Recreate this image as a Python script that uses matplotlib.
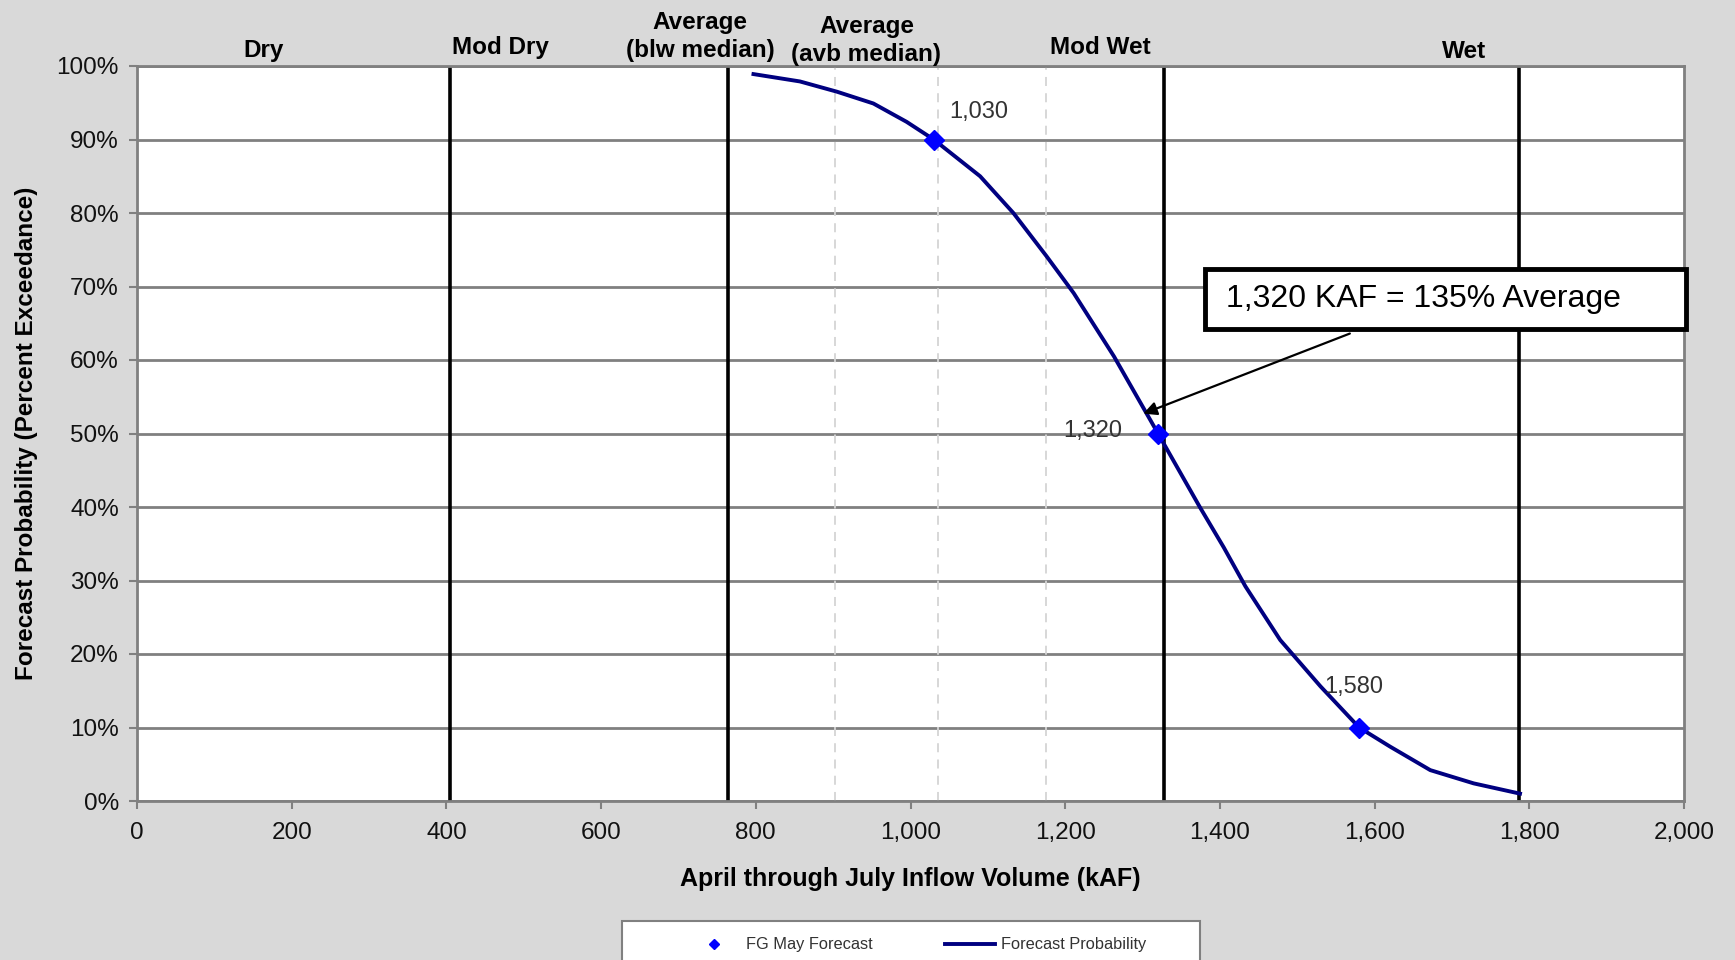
import numpy as np
import matplotlib.pyplot as plt
from matplotlib.ticker import FuncFormatter
from matplotlib.patches import Rectangle

plt.rcParams['font.family'] = ['Liberation Sans', 'DejaVu Sans']

# forecast exceedance curve
volume = [797, 857, 905, 952, 995, 1030, 1090, 1133, 1176, 1211, 1263, 1320,
          1374, 1405, 1433, 1478, 1530, 1580, 1620, 1672, 1728, 1788]
prob = [98.9, 97.9, 96.5, 94.9, 92.4, 90, 85, 80, 74.1, 69.1, 60.5, 50,
        40, 34.5, 29.2, 21.9, 15.6, 10, 7.4, 4.2, 2.4, 1.0]

# FG May forecast points
fc_volume = [1030, 1320, 1580]
fc_prob = [90, 50, 10]
fc_labels = ['1,030', '1,320', '1,580']
fc_label_pos = [(1088, 93.8), (1235, 50.3), (1573, 15.5)]

# year-type boundaries
bounds_solid = [405, 764, 1328, 1787]
bounds_dashed = [903, 1036, 1175]
cat_names = ['Dry', 'Mod Dry', 'Average\n(blw median)', 'Average\n(avb median)', 'Mod Wet', 'Wet']
cat_x = [163, 470, 728, 943, 1245, 1716]
cat_y = [102.1, 102.5, 104.0, 103.5, 102.5, 102.0]

bg = '#d9d9d9'
fig = plt.figure(figsize=(17.35, 9.6), dpi=100, facecolor=bg)
ax = fig.add_axes([137 / 1735, 1 - 801 / 960, 1547 / 1735, 735 / 960])
ax.set_facecolor('white')

ax.set_xlim(0, 2000)
ax.set_ylim(0, 100)
ax.set_xticks(np.arange(0, 2001, 200))
ax.set_yticks(np.arange(0, 101, 10))
ax.xaxis.set_major_formatter(FuncFormatter(lambda v, p: f'{int(v):,}'))
ax.yaxis.set_major_formatter(FuncFormatter(lambda v, p: f'{int(v)}%'))
ax.tick_params(labelsize=17.5, colors='#808080', labelcolor='#111111', length=6, width=1.5)
ax.tick_params(axis='x', pad=9)
ax.tick_params(axis='y', pad=7)
for s in ax.spines.values():
    s.set_color('#808080')
    s.set_linewidth(2)

ax.yaxis.grid(True, color='#808080', linewidth=2)
ax.set_axisbelow(True)

for x in bounds_dashed:
    ax.axvline(x, color='#d4d4d4', linestyle=(0, (5, 4)), linewidth=1.3, zorder=1)
for x in bounds_solid:
    ax.axvline(x, color='black', linewidth=2.6, zorder=2)

ax.plot(volume, prob, color='#000080', linewidth=2.8, zorder=3, label='Forecast Probability')
ax.plot(fc_volume, fc_prob, linestyle='none', marker='D', markersize=10, color='#0000ff',
        zorder=4, label='FG May Forecast')

for lab, (x, y) in zip(fc_labels, fc_label_pos):
    ax.text(x, y, lab, fontsize=17, color='#333333', ha='center', va='center')

for name, x, y in zip(cat_names, cat_x, cat_y):
    ax.text(x, y, name, fontsize=17.5, fontweight='bold', ha='center', va='center',
            linespacing=1.3, clip_on=False)

# callout box
ax.add_patch(Rectangle((1381, 64.2), 2003 - 1381, 72.4 - 64.2, fc='white', ec='black',
                       lw=3.5, zorder=5, clip_on=False))
ax.text(1408, 68.3, '1,320 KAF = 135% Average', fontsize=23, ha='left', va='center', zorder=6)
ax.annotate('', xy=(1301, 52.7), xytext=(1568, 63.6),
            arrowprops=dict(arrowstyle='-|>', color='black', lw=1.6, mutation_scale=20,
                            shrinkA=0, shrinkB=0), zorder=6)

ax.set_xlabel('April through July Inflow Volume (kAF)', fontsize=18, fontweight='bold')
ax.xaxis.set_label_coords(0.5, (801 - 867) / 735)
ax.set_ylabel('Forecast Probability (Percent Exceedance)', fontsize=17.5, fontweight='bold')
ax.yaxis.set_label_coords((38 - 137) / 1547, 0.5)

# legend frame (runs off the bottom edge like the original)
fig.patches.append(Rectangle((622 / 1735, -0.05), 578 / 1735, 0.05 + 1 - 921 / 960,
                             transform=fig.transFigure, fc='white', ec='#808080', lw=1.5,
                             zorder=1))
h, l = ax.get_legend_handles_labels()
leg = fig.legend([h[1], h[0]], [l[1], l[0]], loc='center left', ncol=2,
                 bbox_to_anchor=(689 / 1735, 1 - 945 / 960), frameon=False,
                 fontsize=11.8, markerscale=0.5, handlelength=3.1, handletextpad=0.37,
                 columnspacing=4.4, borderpad=0, borderaxespad=0)
for t in leg.get_texts():
    t.set_color('#333333')
leg.set_zorder(5)

fig.savefig('out.png', dpi=100, facecolor=bg)
